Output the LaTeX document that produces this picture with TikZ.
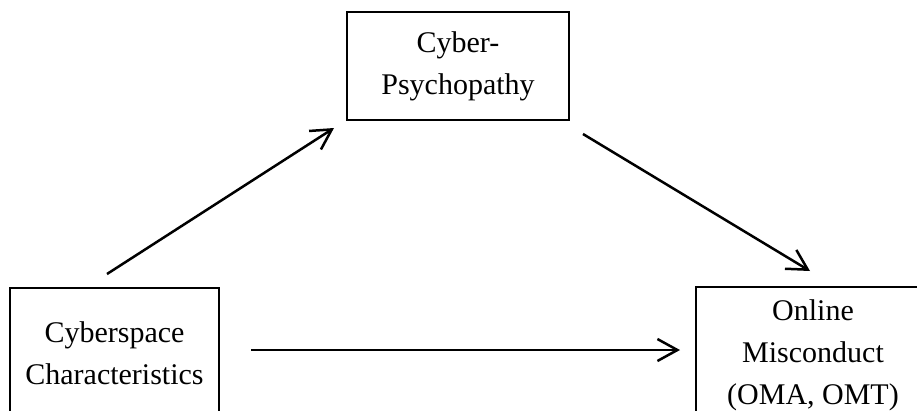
\documentclass[tikz,border=0pt]{standalone}
\usepackage{fontspec}
\setmainfont{Liberation Serif}
\usetikzlibrary{positioning, arrows.meta}

\begin{document}
\begin{tikzpicture}[
    x=1pt, y=-1pt,
    font=\fontsize{30}{42}\selectfont,
    construct/.style={rectangle, draw, line width=2pt, align=center, inner sep=0pt},
    arrow/.style={-{Straight Barb[length=20pt, width=22pt, line width=2.5pt]}, line width=2.5pt}
]
\clip (0,0) rectangle (917,410);

\node[construct, minimum width=222pt, minimum height=108pt] (psycho) at (458,66) {Cyber-\\Psychopathy};
\node[construct, minimum width=209pt, minimum height=130pt] (space) at (114.5,353) {Cyberspace\\Characteristics};
\node[construct, minimum width=234pt, minimum height=136pt] (online) at (813,355) {Online\\Misconduct\\(OMA, OMT)};

\draw[arrow] ([xshift=-7.5pt, yshift=13pt]space.north) -- ([xshift=-12pt, yshift=-7pt]psycho.south west);
\draw[arrow] ([xshift=13pt, yshift=-13pt]psycho.south east) -- ([xshift=-3pt, yshift=15pt]online.north);
\draw[arrow] ([xshift=31pt, yshift=3pt]space.east) -- ([xshift=-15pt, yshift=5pt]online.west);
\end{tikzpicture}
\end{document}
